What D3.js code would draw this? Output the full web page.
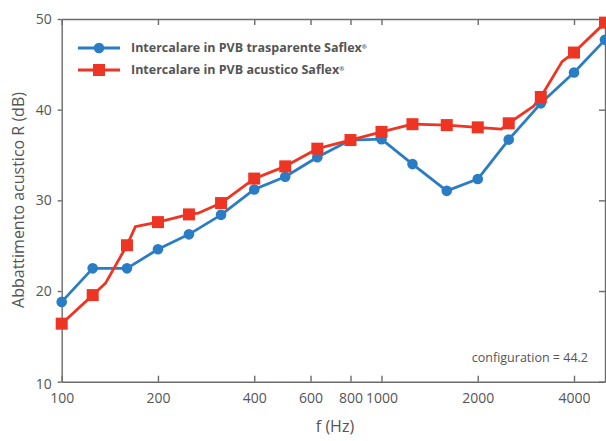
<!DOCTYPE html>
<html>
<head>
<meta charset="utf-8">
<script src="https://cdn.jsdelivr.net/npm/d3@7"></script>
<style>
  body { margin: 0; background: #fff; }
  text { font-family: "Open Sans", "Noto Sans", sans-serif; fill: #555; }
</style>
</head>
<body>
<svg id="chart" width="606" height="441"></svg>
<script>
// frequenze (Hz) in terzi d'ottava
var freqs = [100, 125, 160, 200, 250, 315, 400, 500, 630, 800, 1000, 1250, 1600, 2000, 2500, 3150, 4000, 5000];
// PVB trasparente
var blueVals = [18.8, 22.5, 22.5, 24.6, 26.25, 28.4, 31.2, 32.6, 34.75, 36.65, 36.75, 34.0, 31.05, 32.35, 36.7, 40.7, 44.1, 47.7];
// PVB acustico (markers)
var redVals = [16.4, 19.55, 25.05, 27.6, 28.45, 29.7, 32.4, 33.75, 35.7, 36.65, 37.55, 38.4, 38.3, 38.05, 38.5, 41.4, 46.3, 49.6];
// punti intermedi della curva rossa (senza marker)
var redExtraF = [137, 170, 268, 2370, 2990, 3670];
var redExtraV = [20.85, 27.1, 28.6, 37.86, 40.4, 45.3];

var xTicks = [100, 200, 400, 600, 800, 1000, 2000, 4000];
var yTicks = [10, 20, 30, 40, 50];
var seriesNames = ['Intercalare in PVB trasparente Saflex', 'Intercalare in PVB acustico Saflex'];

var blue = '#2a7dc4', red = '#ee3524', axisCol = '#6b6b6b';
var m = {l: 61.7, r: 1, t: 19, b: 59.3};
var W = 606, H = 441;
var svg = d3.select('#chart');

var x = d3.scaleLog().domain([100, 5000]).range([m.l, W - m.r]);
var y = d3.scaleLinear().domain([10, 50]).range([H - m.b, m.t]);

var blueData = freqs.map((f, i) => ({f: f, v: blueVals[i]}));
var redMarks = freqs.map((f, i) => ({f: f, v: redVals[i]}));
var redLine = redMarks.concat(redExtraF.map((f, i) => ({f: f, v: redExtraV[i]})))
    .sort((a, b) => a.f - b.f);

var line = d3.line().x(d => x(d.f)).y(d => y(d.v));

// assi
var gx = svg.append('g').attr('transform', 'translate(0,' + (H - m.b) + ')')
    .call(d3.axisBottom(x).tickValues(xTicks).tickFormat(d3.format('d')).tickSizeInner(-6).tickSizeOuter(0).tickPadding(11));
var gxTop = svg.append('g').attr('transform', 'translate(0,' + m.t + ')')
    .call(d3.axisTop(x).tickValues(xTicks).tickFormat('').tickSizeInner(-6).tickSizeOuter(0));
var gy = svg.append('g').attr('transform', 'translate(' + m.l + ',0)')
    .call(d3.axisLeft(y).tickValues(yTicks).tickSizeInner(4).tickSizeOuter(0).tickPadding(6));
var gyR = svg.append('g').attr('transform', 'translate(' + (W - m.r) + ',0)')
    .call(d3.axisRight(y).tickValues(yTicks).tickFormat('').tickSizeInner(-6).tickSizeOuter(0));

[gx, gxTop, gy, gyR].forEach(g => {
    g.selectAll('path, line').attr('stroke', axisCol).attr('stroke-width', 1.4);
    g.selectAll('text').style('font-size', '14px').attr('fill', '#555');
});
gy.selectAll('.tick').filter(d => d === 10).select('text').attr('dy', '0.5em');

// linee
svg.append('path').datum(blueData).attr('d', line)
    .attr('fill', 'none').attr('stroke', blue).attr('stroke-width', 2.8).attr('stroke-linejoin', 'round');
svg.append('path').datum(redLine).attr('d', line)
    .attr('fill', 'none').attr('stroke', red).attr('stroke-width', 2.8).attr('stroke-linejoin', 'round');

svg.selectAll('circle.b').data(blueData).enter().append('circle')
    .attr('cx', d => x(d.f)).attr('cy', d => y(d.v)).attr('r', 5.3).attr('fill', blue);
svg.selectAll('rect.r').data(redMarks).enter().append('rect')
    .attr('x', d => x(d.f) - 6).attr('y', d => y(d.v) - 6)
    .attr('width', 12).attr('height', 12).attr('fill', red);

// legenda
var leg = svg.append('g');
[blue, red].forEach((c, i) => {
    var ly = 48 + i * 22;
    leg.append('line').attr('x1', 78).attr('x2', 120).attr('y1', ly).attr('y2', ly)
        .attr('stroke', c).attr('stroke-width', 2.8);
    if (i === 0) leg.append('circle').attr('cx', 99).attr('cy', ly).attr('r', 5.3).attr('fill', c);
    else leg.append('rect').attr('x', 93).attr('y', ly - 6).attr('width', 12).attr('height', 12).attr('fill', c);
    var t = leg.append('text').attr('x', 131).attr('y', ly).attr('dy', '0.35em')
        .style('font-size', '12.5px').style('font-weight', 'bold');
    t.append('tspan').text(seriesNames[i]);
    t.append('tspan').attr('dy', '-0.55em').style('font-size', '6px').text('®');
});

svg.append('text').attr('x', 588).attr('y', 358).attr('dy', '0.35em').attr('text-anchor', 'end')
    .style('font-size', '12.5px').text('configuration = 44.2');

// etichette assi
svg.append('text').attr('x', 335).attr('y', 432).attr('text-anchor', 'middle')
    .style('font-size', '16px').text('f (Hz)');
svg.append('text').attr('transform', 'translate(24,200) rotate(-90)').attr('text-anchor', 'middle')
    .style('font-size', '16px').text('Abbattimento acustico R (dB)');
</script>
</body>
</html>
